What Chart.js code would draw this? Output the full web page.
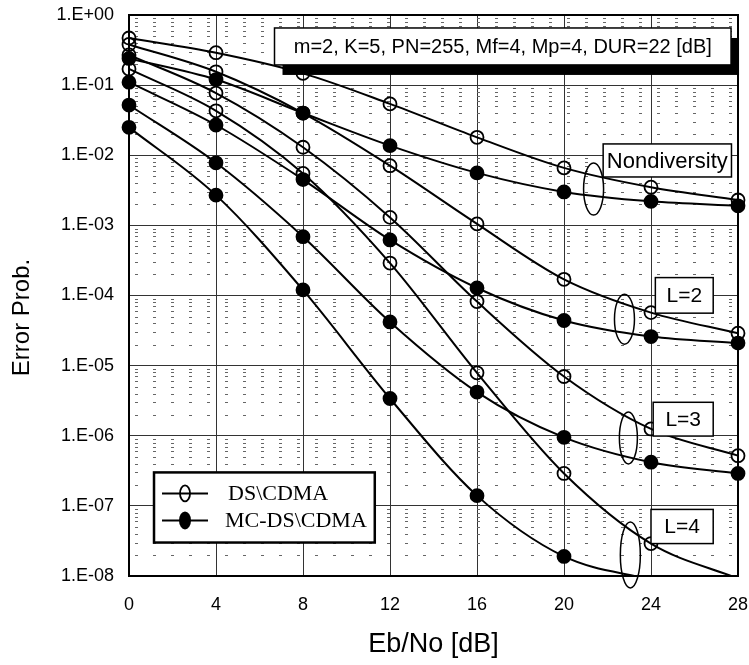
<!DOCTYPE html>
<html>
<head>
<meta charset="utf-8">
<script src="https://cdn.jsdelivr.net/npm/chart.js@4.4.1/dist/chart.umd.min.js"></script>
<style>
  html, body { margin: 0; padding: 0; background: #fff; }
  #wrap { width: 749px; height: 665px; }
</style>
</head>
<body>
<div id="wrap"><canvas id="chart" width="749" height="665"></canvas></div>
<script>
// x axis: Eb/No in dB
const ebNo = [0, 4, 8, 12, 16, 20, 24, 28];

// error probabilities
const dsNondiv = [0.47, 0.29, 0.147, 0.054, 0.018, 0.0066, 0.0035, 0.0023];
const mcNondiv = [0.24, 0.12, 0.04, 0.0137, 0.0056, 0.003, 0.0022, 0.0019];
const dsL2 = [0.38, 0.155, 0.04, 0.0071, 0.00105, 1.7e-4, 5.7e-5, 2.9e-5];
const mcL2 = [0.11, 0.027, 0.0045, 6.2e-4, 1.28e-4, 4.4e-5, 2.6e-5, 2.1e-5];
const dsL3 = [0.27, 0.077, 0.013, 0.0013, 8.2e-5, 7e-6, 1.25e-6, 5.2e-7];
const mcL3 = [0.052, 0.0078, 6.9e-4, 4.2e-5, 4.2e-6, 9.5e-7, 4.2e-7, 2.9e-7];
const dsL4 = [0.17, 0.043, 0.0055, 2.9e-4, 7.9e-6, 2.9e-7, 2.9e-8, 9.2e-9];
const mcL4 = [0.025, 0.0027, 1.2e-4, 3.4e-6, 1.4e-7, 1.9e-8, 8.8e-9];

const yTicks = [1, 1e-1, 1e-2, 1e-3, 1e-4, 1e-5, 1e-6, 1e-7, 1e-8];
const minorSteps = [2, 3, 4, 5, 6, 7, 8, 9];

const legendLabels = ['DS\\CDMA', 'MC-DS\\CDMA'];
const infoText = 'm=2, K=5, PN=255, Mf=4, Mp=4, DUR=22 [dB]';

// labelled boxes and ellipses, placed in data units
const labelBoxes = [
  { text: infoText, x0: 6.69, x1: 27.68, y0: 0.653, y1: 0.194, size: 20, shadow: true },
  { text: 'Nondiversity', x0: 21.8, x1: 27.7, y0: 0.0145, y1: 0.0049, size: 22 },
  { text: 'L=2', x0: 24.2, x1: 26.86, y0: 1.8e-4, y1: 5.6e-5, size: 21 },
  { text: 'L=3', x0: 24.1, x1: 26.86, y0: 3.0e-6, y1: 9.9e-7, size: 21 },
  { text: 'L=4', x0: 24.0, x1: 26.86, y0: 8.9e-8, y1: 2.9e-8, size: 21 },
];
const groupEllipses = [
  { x: 21.36, y: 0.0033, rx: 10, ry: 26 },
  { x: 22.78, y: 4.6e-5, rx: 10, ry: 25 },
  { x: 22.96, y: 9.3e-7, rx: 9, ry: 26 },
  { x: 23.05, y: 2.0e-8, rx: 10, ry: 33 },
];
const legendBox = { x0: 1.15, x1: 11.3, y0: 3.0e-7, y1: 3.0e-8 };

const sansFont = '"Liberation Sans", Arial, sans-serif';

function pairs(values) {
  return values.map((v, i) => ({ x: ebNo[i], y: v }));
}

function series(label, values, filled) {
  return {
    label,
    data: pairs(values),
    borderColor: '#000',
    borderWidth: 2,
    backgroundColor: filled ? '#000' : 'rgba(0,0,0,0)',
    pointBackgroundColor: filled ? '#000' : 'rgba(0,0,0,0)',
    pointBorderColor: '#000',
    pointBorderWidth: 1.8,
    // points below the axis floor are not drawn
    pointRadius: (ctx) => (ctx.raw && ctx.raw.y < 1e-8 ? 0 : 6.5),
    pointHoverRadius: 6.5,
    cubicInterpolationMode: 'monotone',
    fill: false,
    clip: { left: 10, right: 10, top: 10, bottom: 0 },
    order: filled ? 0 : 1,
  };
}

function expLabel(v) {
  const e = Math.round(Math.log10(v));
  return '1.E' + (e < 0 ? '-' : '+') + String(Math.abs(e)).padStart(2, '0');
}

const decorations = {
  id: 'decorations',
  beforeDatasetsDraw(chart) {
    const { ctx, chartArea: a, scales: { y } } = chart;
    ctx.save();
    ctx.strokeStyle = '#666';
    ctx.lineWidth = 1;
    ctx.setLineDash([3, 15]);
    for (let e = 0; e > -8; e--) {
      minorSteps.forEach((m) => {
        const py = Math.round(y.getPixelForValue(m * Math.pow(10, e - 1))) + 0.5;
        ctx.beginPath();
        ctx.moveTo(a.left + 6, py);
        ctx.lineTo(a.right, py);
        ctx.stroke();
      });
    }
    ctx.restore();
  },
  afterDatasetsDraw(chart) {
    const { ctx, chartArea: a, scales: { x, y } } = chart;
    ctx.save();

    // plot frame
    ctx.strokeStyle = '#000';
    ctx.lineWidth = 2;
    ctx.strokeRect(a.left, a.top, a.right - a.left, a.bottom - a.top);

    // group ellipses
    ctx.lineWidth = 1.5;
    groupEllipses.forEach((el) => {
      ctx.beginPath();
      ctx.ellipse(x.getPixelForValue(el.x), y.getPixelForValue(el.y), el.rx, el.ry, 0, 0, Math.PI * 2);
      ctx.stroke();
    });

    // label boxes
    labelBoxes.forEach((b) => {
      const l = x.getPixelForValue(b.x0);
      const r = x.getPixelForValue(b.x1);
      const t = y.getPixelForValue(b.y0);
      const btm = y.getPixelForValue(b.y1);
      if (b.shadow) {
        ctx.fillStyle = '#000';
        ctx.fillRect(l + 8, t + 10, r - l, btm - t);
      }
      ctx.fillStyle = '#fff';
      ctx.fillRect(l, t, r - l, btm - t);
      ctx.strokeStyle = '#000';
      ctx.lineWidth = 1.5;
      ctx.strokeRect(l, t, r - l, btm - t);
      ctx.fillStyle = '#000';
      ctx.font = `${b.size}px ${sansFont}`;
      ctx.textAlign = 'center';
      ctx.textBaseline = 'middle';
      ctx.fillText(b.text, (l + r) / 2, (t + btm) / 2 + 1);
    });

    // legend
    const ll = x.getPixelForValue(legendBox.x0);
    const lr = x.getPixelForValue(legendBox.x1);
    const lt = y.getPixelForValue(legendBox.y0);
    const lb = y.getPixelForValue(legendBox.y1);
    ctx.fillStyle = '#fff';
    ctx.fillRect(ll, lt, lr - ll, lb - lt);
    ctx.strokeStyle = '#000';
    ctx.lineWidth = 2.5;
    ctx.strokeRect(ll, lt, lr - ll, lb - lt);
    legendLabels.forEach((label, i) => {
      const cy = lt + (i === 0 ? 21 : 48);
      ctx.lineWidth = 2;
      ctx.beginPath();
      ctx.moveTo(ll + 8, cy);
      ctx.lineTo(ll + 54, cy);
      ctx.stroke();
      ctx.beginPath();
      ctx.ellipse(ll + 31, cy, i === 0 ? 5 : 6, i === 0 ? 8 : 9, 0, 0, Math.PI * 2);
      if (i === 1) {
        ctx.fillStyle = '#000';
        ctx.fill();
      } else {
        ctx.lineWidth = 1.8;
        ctx.stroke();
      }
      ctx.fillStyle = '#000';
      ctx.font = '22px "Liberation Serif", "Times New Roman", serif';
      ctx.textAlign = 'left';
      ctx.textBaseline = 'middle';
      ctx.fillText(label, ll + (i === 0 ? 74 : 71), cy + 1);
    });

    ctx.restore();
  },
  afterDraw(chart) {
    const { ctx, chartArea: a } = chart;
    ctx.save();
    ctx.translate(22, (a.top + a.bottom) / 2 + 22);
    ctx.rotate(-Math.PI / 2);
    ctx.fillStyle = '#000';
    ctx.font = `24px ${sansFont}`;
    ctx.textAlign = 'center';
    ctx.textBaseline = 'middle';
    ctx.fillText('Error Prob.', 0, 0);
    ctx.restore();
  },
};

new Chart(document.getElementById('chart'), {
  type: 'line',
  data: {
    datasets: [
      series('MC Nondiversity', mcNondiv, true),
      series('MC L=2', mcL2, true),
      series('MC L=3', mcL3, true),
      series('MC L=4', mcL4, true),
      series('DS Nondiversity', dsNondiv, false),
      series('DS L=2', dsL2, false),
      series('DS L=3', dsL3, false),
      series('DS L=4', dsL4, false),
    ],
  },
  options: {
    responsive: false,
    devicePixelRatio: 1,
    animation: false,
    layout: { padding: { left: 0, right: 11, top: 15, bottom: 0 } },
    plugins: {
      legend: { display: false },
      tooltip: { enabled: false },
    },
    scales: {
      x: {
        type: 'linear',
        min: 0,
        max: 28,
        afterFit(scale) {
          scale.height = 89;
          scale.paddingLeft = 0;
          scale.paddingRight = 0;
        },
        ticks: {
          stepSize: 4,
          color: '#000',
          padding: 18,
          font: { family: sansFont, size: 18 },
        },
        grid: { color: '#333', lineWidth: 1, drawTicks: false },
        border: { color: '#000', width: 2 },
        title: {
          display: true,
          text: 'Eb/No [dB]',
          color: '#000',
          padding: { top: 0, bottom: 4 },
          font: { family: sansFont, size: 27 },
        },
      },
      y: {
        type: 'logarithmic',
        min: 1e-8,
        max: 1,
        afterFit(scale) {
          scale.width = 129;
          scale.paddingTop = 0;
          scale.paddingBottom = 0;
        },
        afterBuildTicks(scale) { scale.ticks = yTicks.map((v) => ({ value: v, major: true })); },
        ticks: {
          autoSkip: false,
          color: '#000',
          padding: 15,
          callback: (v) => expLabel(v),
          font: { family: sansFont, size: 18 },
        },
        grid: { color: '#333', lineWidth: 1, drawTicks: false },
        border: { color: '#000', width: 2 },
      },
    },
  },
  plugins: [decorations],
});
</script>
</body>
</html>
